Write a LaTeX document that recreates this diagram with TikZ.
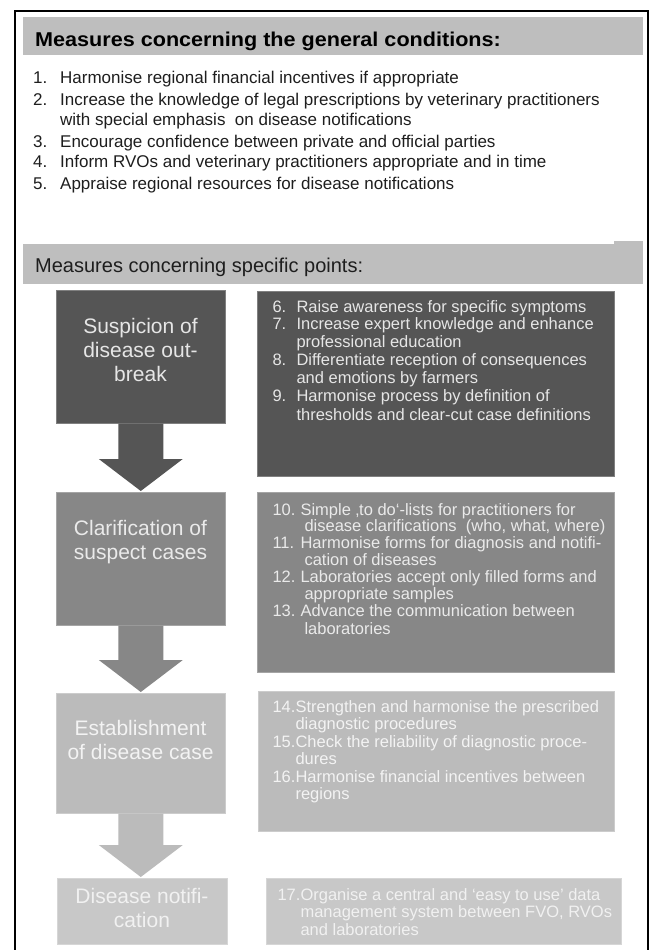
\documentclass[tikz,border=0pt]{standalone}
\usepackage{fontspec}
\setmainfont{Liberation Sans}
\usetikzlibrary{calc}

\definecolor{barfill}{HTML}{BEBEBE}
\definecolor{listtext}{HTML}{1E1E1E}
\definecolor{toneA}{HTML}{555555}
\definecolor{toneB}{HTML}{878787}
\definecolor{toneC}{HTML}{BBBBBB}
\definecolor{toneD}{HTML}{C8C8C8}
\definecolor{inkA}{HTML}{E6E6E6}
\definecolor{inkB}{HTML}{EAEAEA}
\definecolor{inkC}{HTML}{F3F3F3}
\definecolor{inkD}{HTML}{F1F1F1}

% block arrow from the bottom of one stage box to the top of the next
\newcommand\stagearrow[3]{%
  \fill[#3] let \p1=(#1.south), \p2=(#2.north) in
    (\x1-22.5pt,\y1) -- (\x1+22.5pt,\y1) -- (\x1+22.5pt,\y2+33pt)
    -- (\x1+42pt,\y2+33pt) -- (\x1,\y2+1pt) -- (\x1-42pt,\y2+33pt)
    -- (\x1-22.5pt,\y2+33pt) -- cycle;}

\begin{document}
\begin{tikzpicture}[x=1pt,y=-1pt,
  bar/.style={fill=barfill,draw=none,anchor=north west,inner sep=0pt},
  panel/.style={fill=#1,draw=#1!75!white,line width=0.6pt,anchor=north west,inner sep=0pt},
  stagetext/.style={anchor=base,font=\fontsize{21}{24}\selectfont},
  pointtext/.style={anchor=base west,font=\fontsize{16.5}{17.5}\selectfont}]

\useasboundingbox (0,0) rectangle (651,950);
\fill[white] (0,0) rectangle (651,950);

% outer frame (open at the bottom)
\draw[line width=2pt] (15,952) -- (15,11) -- (648,11) -- (648,952);

% ---- general conditions ----
\node[bar,minimum width=620pt,minimum height=38pt] (hd1) at (23,17) {};
\node[anchor=base west,inner sep=0pt,font=\bfseries\fontsize{20}{24}\selectfont] (hd1t) at (35,47)
  {\scalebox{1.08}[1]{Measures concerning the general conditions:}};

\node[anchor=base west,inner sep=0pt,text=listtext,font=\fontsize{17}{21}\selectfont] (genlist) at (33,84)
  {\begin{tabular}[t]{@{}p{27pt}@{}l@{}}
   1. & Harmonise regional financial incentives if appropriate\\
   2. & Increase the knowledge of legal prescriptions by veterinary practitioners\\
      & with special emphasis\ \ on disease notifications\\
   3. & Encourage confidence between private and official parties\\
   4. & Inform RVOs and veterinary practitioners appropriate and in time\\
   5. & Appraise regional resources for disease notifications
   \end{tabular}};

% ---- specific points ----
\node[bar,minimum width=620pt,minimum height=40pt] (hd2) at (23,244) {};
\node[bar,minimum width=29pt,minimum height=4pt] (hd2tab) at (614,241) {};
\node[anchor=base west,inner sep=0pt,text=listtext,font=\fontsize{20}{24}\selectfont] (hd2t) at (35,272)
  {Measures concerning specific points:};

% stage boxes on the left
\node[panel=toneA,minimum width=169pt,minimum height=133pt] (s1) at (56,290) {};
\node[panel=toneB,minimum width=169pt,minimum height=133pt] (s2) at (56,492) {};
\node[panel=toneC,minimum width=169pt,minimum height=120pt] (s3) at (56,693) {};
\node[panel=toneD,minimum width=170pt,minimum height=66pt] (s4) at (57,878) {};

\stagearrow{s1}{s2}{toneA}
\stagearrow{s2}{s3}{toneB}
\stagearrow{s3}{s4}{toneC}

\node[stagetext,text=inkA] (s1t) at (140.5,333)
  {\begin{tabular}[t]{@{}c@{}}Suspicion of\\disease out-\\break\end{tabular}};
\node[stagetext,text=inkB] (s2t) at (140.5,535)
  {\begin{tabular}[t]{@{}c@{}}Clarification of\\suspect cases\end{tabular}};
\node[stagetext,text=inkC] (s3t) at (140.5,735)
  {\begin{tabular}[t]{@{}c@{}}Establishment\\of disease case\end{tabular}};
\node[stagetext,text=inkD] (s4t) at (142,903)
  {\begin{tabular}[t]{@{}c@{}}Disease notifi-\\cation\end{tabular}};

% measure boxes on the right
\node[panel=toneA,minimum width=357pt,minimum height=185pt] (m1) at (257,291) {};
\node[panel=toneB,minimum width=357pt,minimum height=180pt] (m2) at (257,492) {};
\node[panel=toneC,minimum width=356pt,minimum height=140pt] (m3) at (258,691) {};
\node[panel=toneD,minimum width=355pt,minimum height=66pt] (m4) at (266,878) {};

\node[pointtext,text=inkA,font=\fontsize{16.5}{17.8}\selectfont] (m1t) at (269,312)
  {\begin{tabular}[t]{@{}p{24pt}@{}l@{}}
   6. & Raise awareness for specific symptoms\\
   7. & Increase expert knowledge and enhance\\
      & professional education\\
   8. & Differentiate reception of consequences\\
      & and emotions by farmers\\
   9. & Harmonise process by definition of\\[2pt]
      & thresholds and clear-cut case definitions
   \end{tabular}};

\node[pointtext,text=inkB,font=\fontsize{16.5}{16.3}\selectfont] (m2t) at (269,515)
  {\begin{tabular}[t]{@{}p{28pt}@{}l@{}}
   10. & Simple ‚to do‘-lists for practitioners for\\
       & \hspace{4pt}disease clarifications\ \ (who, what, where)\\
   11. & Harmonise forms for diagnosis and notifi-\\
       & \hspace{4pt}cation of diseases\\
   12. & Laboratories accept only filled forms and\\
       & \hspace{4pt}appropriate samples\\
   13. & Advance the communication between\\[2pt]
       & \hspace{4pt}laboratories
   \end{tabular}};

\node[pointtext,text=inkC] (m3t) at (269,712)
  {\begin{tabular}[t]{@{}p{23pt}@{}l@{}}
   14. & Strengthen and harmonise the prescribed\\
       & diagnostic procedures\\
   15. & Check the reliability of diagnostic proce-\\
       & dures\\
   16. & Harmonise financial incentives between\\
       & regions
   \end{tabular}};

\node[pointtext,text=inkD] (m4t) at (274,900)
  {\begin{tabular}[t]{@{}p{23pt}@{}l@{}}
   17. & Organise a central and ‘easy to use’ data\\
       & management system between FVO, RVOs\\
       & and laboratories
   \end{tabular}};

\end{tikzpicture}
\end{document}
